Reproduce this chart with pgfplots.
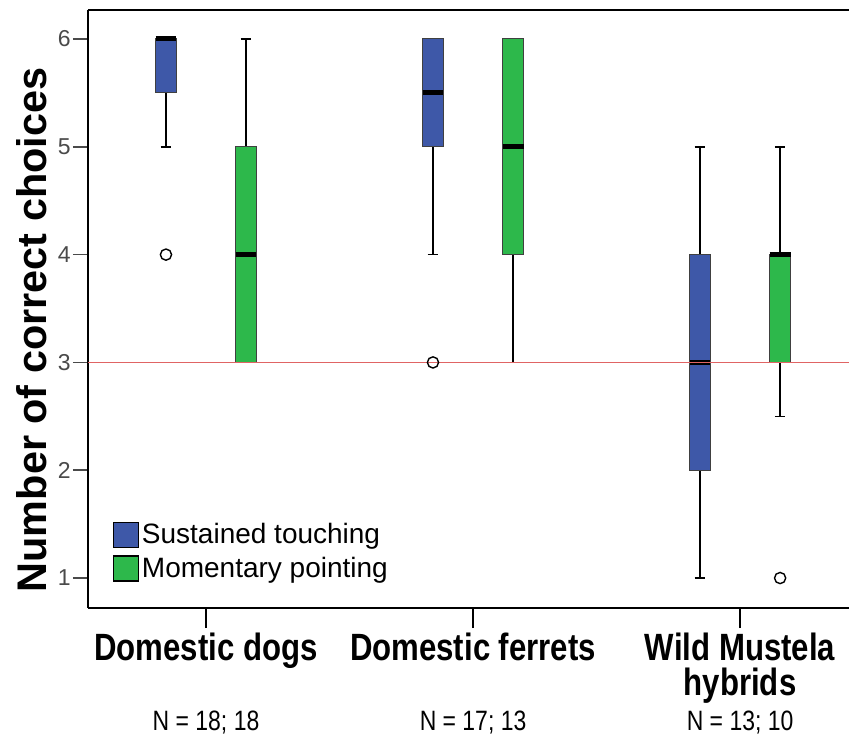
\documentclass[border=0pt]{standalone}
\usepackage{fontspec}
\setmainfont{Liberation Sans}
\newfontfamily\narrowfont[FakeStretch=0.82]{Liberation Sans}
\usepackage{pgfplots}
\pgfplotsset{compat=1.18}
\usepgfplotslibrary{statistics}

\definecolor{stblue}{HTML}{3E58A8}
\definecolor{mpgreen}{HTML}{2DB84B}
\definecolor{refred}{HTML}{E06464}
\definecolor{ticklab}{HTML}{4A4A4A}

\pgfplotsset{
  bp/.style={
    black, solid, line width=0.8pt,
    mark=o, mark size=2.8pt, mark options={line width=0.7pt, black},
    boxplot/draw direction=y,
    boxplot/box extend=0.078,
    boxplot/whisker extend=0.04,
    boxplot/every box/.style={fill=#1, draw=black!75, line width=0.5pt},
    boxplot/every median/.style={line width=2.5pt, black},
  },
  leg/.style={legend image code/.code={
    \draw[fill=#1, draw=black, line width=0.6pt] (0pt,-6.25pt) rectangle (12.5pt,6.25pt);}},
}

\begin{document}
\begin{tikzpicture}
\begin{axis}[
  scale only axis, width=380.5pt, height=299pt,
  xmin=0.558, xmax=3.408, ymin=0.722, ymax=6.269,
  axis x line=box, axis y line=left,
  axis line style={-, black, line width=0.8pt},
  clip=false,
  xtick={1,2,3},
  xticklabels={Domestic dogs, Domestic ferrets, {Wild Mustela\\hybrids}},
  ytick={1,2,3,4,5,6},
  tick align=outside, xtick pos=bottom, ytick pos=left,
  major tick length=7.5pt,
  xtick style={black, line width=0.8pt, /pgfplots/major tick length=10pt},
  ytick style={ticklab, line width=0.8pt},
  xticklabel style={font=\narrowfont\bfseries\fontsize{19}{17.5}\selectfont, align=center,
    text=black, yshift=-1.5pt},
  yticklabel style={font=\fontsize{11.5}{13}\selectfont, text=ticklab, inner sep=1pt},
  /pgf/number format/assume math mode=true,
  ylabel={\textbf{Number of correct choices}},
  ylabel style={font=\fontsize{20.7}{24}\selectfont, at={(rel axis cs:-0.0736,0.465)}, anchor=center},
  legend style={at={(rel axis cs:0.032,0.147)}, anchor=north west, draw=none, fill=none,
    inner sep=0pt, row sep=2pt, font=\fontsize{14}{16}\selectfont,
    nodes={inner sep=1.5pt}, cells={anchor=west}},
]

\addlegendimage{leg=stblue}
\addlegendentry{Sustained touching}
\addlegendimage{leg=mpgreen}
\addlegendentry{Momentary pointing}

% Domestic dogs
\addplot[bp=stblue, forget plot, boxplot prepared={draw position=0.85,
  lower whisker=5, lower quartile=5.5, median=6, upper quartile=6, upper whisker=6}]
  coordinates {(0,4)};
\addplot[bp=mpgreen, forget plot, boxplot prepared={draw position=1.15,
  lower whisker=3, lower quartile=3, median=4, upper quartile=5, upper whisker=6}]
  coordinates {};

% Domestic ferrets
\addplot[bp=stblue, forget plot, boxplot prepared={draw position=1.85,
  lower whisker=4, lower quartile=5, median=5.5, upper quartile=6, upper whisker=6}]
  coordinates {(0,3)};
\addplot[bp=mpgreen, forget plot, boxplot prepared={draw position=2.15,
  lower whisker=3, lower quartile=4, median=5, upper quartile=6, upper whisker=6}]
  coordinates {};

% Wild Mustela hybrids
\addplot[bp=stblue, forget plot, boxplot prepared={draw position=2.85,
  lower whisker=1, lower quartile=2, median=3, upper quartile=4, upper whisker=5}]
  coordinates {};
\addplot[bp=mpgreen, forget plot, boxplot prepared={draw position=3.15,
  lower whisker=2.5, lower quartile=3, median=4, upper quartile=4, upper whisker=5}]
  coordinates {(0,1)};

% chance level
\addplot[refred, line width=0.8pt, forget plot] coordinates {(0.558,3) (3.408,3)};

\node[font=\narrowfont\fontsize{14}{16}\selectfont, yshift=-57pt] at (axis cs:1,0.722) {N = 18; 18};
\node[font=\narrowfont\fontsize{14}{16}\selectfont, yshift=-57pt] at (axis cs:2,0.722) {N = 17; 13};
\node[font=\narrowfont\fontsize{14}{16}\selectfont, yshift=-57pt] at (axis cs:3,0.722) {N = 13; 10};

\coordinate (bl) at (rel axis cs:0,0);
\coordinate (tr) at (rel axis cs:1,1);
\end{axis}
\pgfresetboundingbox
\path ([shift={(-44pt,-71.5pt)}]bl) rectangle ([shift={(0pt,5pt)}]tr);
\end{tikzpicture}
\end{document}
